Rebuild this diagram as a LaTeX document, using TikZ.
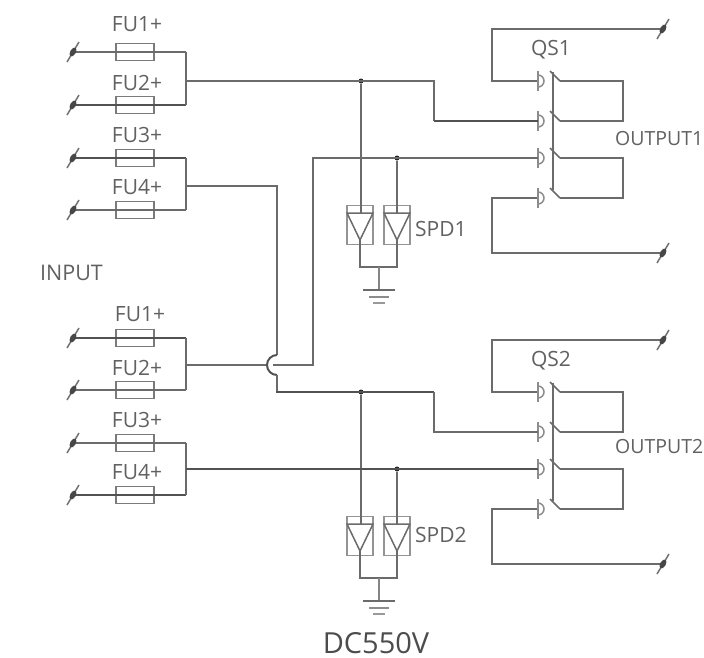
\documentclass[tikz,border=0pt]{standalone}
\usepackage{fontspec}
\setmainfont{Open Sans}
\tikzset{
  x=1pt,y=-1pt,
  wire/.style={draw=black!58,line width=1.5pt,line join=miter},
  wireb/.style={draw=black!68,line width=2.3pt,line join=miter},
  fusebox/.style={draw=black!52,line width=1.5pt,fill=white,minimum width=38pt,minimum height=17pt,inner sep=0pt},
  dotj/.style={circle,fill=black!85,inner sep=0pt,minimum size=5pt},
  lab/.style={text=black!62,font=\fontsize{21}{23}\selectfont,inner sep=0pt},
  spdbox/.style={draw=black!42,line width=1.6pt,fill=white,minimum width=26pt,minimum height=39pt,inner sep=0pt},
  slash/.style={draw=black!55,line width=1.5pt},
}
\newcommand{\tick}[2]{\draw[slash] (#1-6,#2+10) -- (#1+6,#2-10);\fill[black!72,rotate around={60:(#1,#2)}] (#1,#2) ellipse (5pt and 2.8pt);}
\newcommand{\fuseline}[3]{% name, y, style
  \coordinate (in#1) at (73,#2);
  \coordinate (bus#1) at (186,#2);
  \node[fusebox] (f#1) at (135,#2) {};
  \draw[#3] (in#1) -- (bus#1);
  \tick{73}{#2}
}
\newcommand{\qswitch}[3]{% prefix, yshift, label
 \begin{scope}[yshift=-#2pt]
  \coordinate (#1c1) at (538,81);
  \coordinate (#1c2) at (538,121);
  \coordinate (#1c3) at (538,158);
  \coordinate (#1c4) at (538,198);
  \coordinate (#1r1) at (560,81);
  \coordinate (#1r2) at (560,121);
  \coordinate (#1r3) at (560,158);
  \coordinate (#1r4) at (560,198);
  \coordinate (#1t) at (663,29);
  \coordinate (#1b) at (663,253);
  \coordinate (#1tl) at (492,29);
  \coordinate (#1bl) at (492,253);
  \draw[wire] (#1t) -- (#1tl) -- (492,81) -- (#1c1);
  \draw[wire] (#1b) -- (#1bl) -- (492,198) -- (#1c4);
  \draw[wire] (#1r1) -- (623,81) -- (623,121) -- (#1r2);
  \draw[wire] (#1r3) -- (623,158) -- (623,198) -- (#1r4);
  \draw[wire] (553,72) -- (553,190);
  \foreach \yy in {81,121,158,198}{
    \draw[wire] (550,\yy-10) -- (560,\yy);
    \draw[wire,draw=black!45] (538,\yy-10) -- (538,\yy+10);
    \draw[wire,draw=black!45] (538,\yy-6) arc[start angle=90,end angle=-90,radius=6pt];
  }
  \tick{663}{29}
  \tick{663}{253}
  \node[lab] (#1lab) at (551,50) {#3};
 \end{scope}
}
\newcommand{\spd}[2]{% prefix, yshift
 \begin{scope}[yshift=-#2pt]
  \node[spdbox] (#1a) at (360,225) {};
  \node[spdbox] (#1b) at (397,225) {};
  \coordinate (#1at) at (360,213);
  \coordinate (#1bt) at (397,213);
  \coordinate (#1g) at (379,267);
  \coordinate (#1e) at (379,290);
  \draw[wire] (347,213) -- (373,213) -- (360,240) -- cycle;
  \draw[wire] (384,213) -- (410,213) -- (397,240) -- cycle;
  \draw[wire] (360,240) -- (360,267) -- (397,267) -- (397,240);
  \draw[wire,draw=black!48,line width=2pt] (#1g) -- (#1e);
  \draw[wire,line width=2pt] (363,290) -- (395,290);
  \draw[wire,draw=black!45] (369,297) -- (389,297);
  \draw[wire,draw=black!40] (373,303) -- (385,303);
 \end{scope}
}
\begin{document}
\begin{tikzpicture}
\useasboundingbox (0,0) rectangle (704,657);
\fill[white] (0,0) rectangle (704,657);
% input groups
\fuseline{a}{52}{wire}
\fuseline{b}{105}{wireb}
\fuseline{c}{158}{wireb}
\fuseline{d}{210}{wire}
\fuseline{e}{338}{wireb}
\fuseline{f}{390}{wire}
\fuseline{g}{443}{wire}
\fuseline{h}{495}{wireb}
\draw[wire] (busa) -- (busb);
\draw[wire] (busc) -- (busd);
\draw[wire] (buse) -- (busf);
\draw[wire] (busg) -- (bush);

\qswitch{p}{0}{QS1}
\qswitch{q}{311}{QS2}
\spd{s}{0}
\spd{t}{311}

% main wiring
\coordinate (o1) at (186,81);
\coordinate (o2) at (186,186);
\coordinate (o3) at (186,365);
\coordinate (o4) at (186,469);
\node[dotj] (j1) at (361,81) {};
\node[dotj] (j2) at (397,158) {};
\node[dotj] (j3) at (361,392) {};
\node[dotj] (j4) at (397,469) {};
\draw[wire] (o1) -- (434,81) -- (434,121);
\draw[wireb] (434,121) -- (pc2);
\draw[wire] (j1) -- (sat -| j1);
\draw[wire] (j2) -- (sbt);
\draw[wire] (j3) -- (tat -| j3);
\draw[wire] (j4) -- (tbt);
\draw[wire] (pc3) -- (313,158) -- (313,365) -- (273,365);
\draw[wire] (266,365) -- (o3);
\draw[wire] (o2) -- (277,186) -- (277,355);
\draw[wire,draw=black!68,line width=2pt] (277,355) arc[start angle=90,end angle=270,radius=10pt];
\draw[wire] (277,375) -- (277,392);
\draw[wireb] (276,392) -- (434,392);
\draw[wire] (434,392) |- (qc2);
\draw[wireb] (o4) -- (qc3);

% labels
\node[lab] (n1) at (137,24) {FU1+};
\node[lab] (n2) at (137,83) {FU2+};
\node[lab] (n3) at (137,135) {FU3+};
\node[lab] (n4) at (137,187) {FU4+};
\node[lab] (n5) at (140,314) {FU1+};
\node[lab] (n6) at (137,368) {FU2+};
\node[lab] (n7) at (137,420) {FU3+};
\node[lab] (n8) at (137,472) {FU4+};
\node[lab,font=\fontsize{21.5}{23}\selectfont] (n9) at (71.5,273) {INPUT};
\node[lab,anchor=west,font=\fontsize{19.5}{22}\selectfont] (n10) at (615,139) {OUTPUT1};
\node[lab,anchor=west,font=\fontsize{19.5}{22}\selectfont] (n11) at (615,447) {OUTPUT2};
\node[lab,anchor=west] (n12) at (415,229) {SPD1};
\node[lab,anchor=west] (n13) at (415,535) {SPD2};
\node[lab,text=black!70,font=\fontsize{29}{31}\selectfont] (n14) at (376,643) {DC550V};
\end{tikzpicture}
\end{document}
